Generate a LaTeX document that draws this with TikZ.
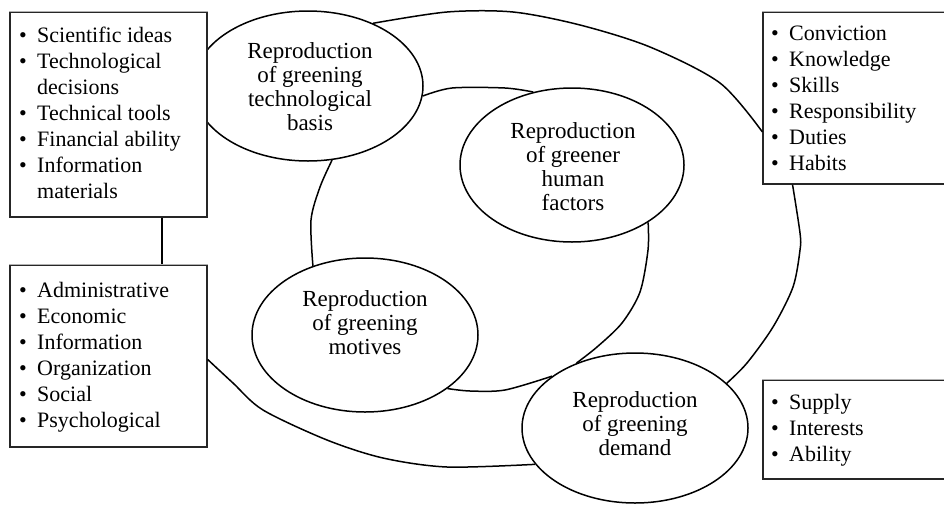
\documentclass[tikz,border=0pt]{standalone}
\usepackage{fontspec}
\setmainfont{Liberation Serif}
\usetikzlibrary{shapes.geometric}
\newcommand{\bul}{\makebox[18pt][l]{\textbullet}}
\newcommand{\cnt}{\hspace*{18pt}}
\begin{document}
\begin{tikzpicture}[x=1pt,y=-1pt,
  ell/.style={ellipse, draw, line width=1.5pt, inner sep=0pt},
  etext/.style={align=center, font=\fontsize{23}{24}\selectfont, inner sep=0pt},
  listbox/.style={draw=black!85, line width=1.3pt, fill=white, inner sep=0pt},
  topedge/.style={draw=gray!60, line width=0.8pt},
  listtext/.style={align=left, font=\fontsize{22}{26}\selectfont, inner sep=0pt, anchor=north west},
  loopline/.style={line width=1.5pt, line join=round}]
\useasboundingbox (0,0) rectangle (944,504);

% ellipses
\node[ell, minimum width=230pt, minimum height=150pt] (e1) at (308,86) {};
\node[ell, minimum width=224pt, minimum height=154pt] (e2) at (572,165) {};
\node[ell, minimum width=226pt, minimum height=154pt] (e3) at (365,335) {};
\node[ell, minimum width=226pt, minimum height=150pt] (e4) at (635,428) {};

% boxes
\node[listbox, minimum width=197pt, minimum height=205pt] (btl) at (108.5,114.5) {};
\node[listbox, minimum width=197pt, minimum height=182pt] (bbl) at (108.5,356) {};
\node[listbox, minimum width=185pt, minimum height=172pt] (btr) at (855.5,98) {};
\node[listbox, minimum width=185pt, minimum height=99pt] (bbr) at (855.5,429.5) {};
\draw[topedge] (btl.north west) -- (btl.north east);
\draw[topedge] (bbl.north west) -- (bbl.north east);
\draw[topedge] (btr.north west) -- (btr.north east);
\draw[topedge] (bbr.north west) -- (bbr.north east);

% middle loop
\draw[loopline] plot[smooth] coordinates {(e1.-5) (452,88) (505,88) (e2.118)};
\draw[loopline] plot[smooth] coordinates {(e2.-37) (648,250) (640,292) (622,323) (597,347) (e4.132)};
\draw[loopline] plot[smooth] coordinates {(e3.-33) (470,391) (505,390) (e4.148)};
\draw[loopline] plot[smooth] coordinates {(e1.-72) (320,187) (311,220) (e3.127)};

% outer loop
\draw[loopline] plot[smooth] coordinates {(e1.44) (447,12) (513,12) (580,25) (650,47) (720,83) (btr.200)};
\draw[loopline] plot[smooth] coordinates {(btr.234) (800,233) (800,250) (793,287) (773,327) (747,363) (e4.26)};
\draw[loopline] plot[smooth] coordinates {(e4.200) (447,467) (383,458) (327,440) (263,410) (233,383) (bbl.-2)};
\draw[loopline] ([xshift=53.5pt]btl.south) -- ([xshift=53.5pt]bbl.north);

% ellipse texts
\node[etext] (t1) at (310,87) {Reproduction\\of greening\\technological\\basis};
\node[etext] (t2) at (573,167) {Reproduction\\of greener\\human\\factors};
\node[etext] (t3) at (365,323) {Reproduction\\of greening\\motives};
\node[etext] (t4) at (635,424) {Reproduction\\of greening\\demand};

% list texts
\node[listtext] (ltl) at (19,27) {\bul Scientific ideas\\\bul Technological\\\cnt decisions\\\bul Technical tools\\\bul Financial ability\\\bul Information\\\cnt materials};
\node[listtext] (lbl) at (19,282) {\bul Administrative\\\bul Economic\\\bul Information\\\bul Organization\\\bul Social\\\bul Psychological};
\node[listtext] (ltr) at (771,26) {\bul Conviction\\\bul Knowledge\\\bul Skills\\\bul Responsibility\\\bul Duties\\\bul Habits};
\node[listtext] (lbr) at (771,394) {\bul Supply\\\bul Interests\\\bul Ability};
\end{tikzpicture}
\end{document}
